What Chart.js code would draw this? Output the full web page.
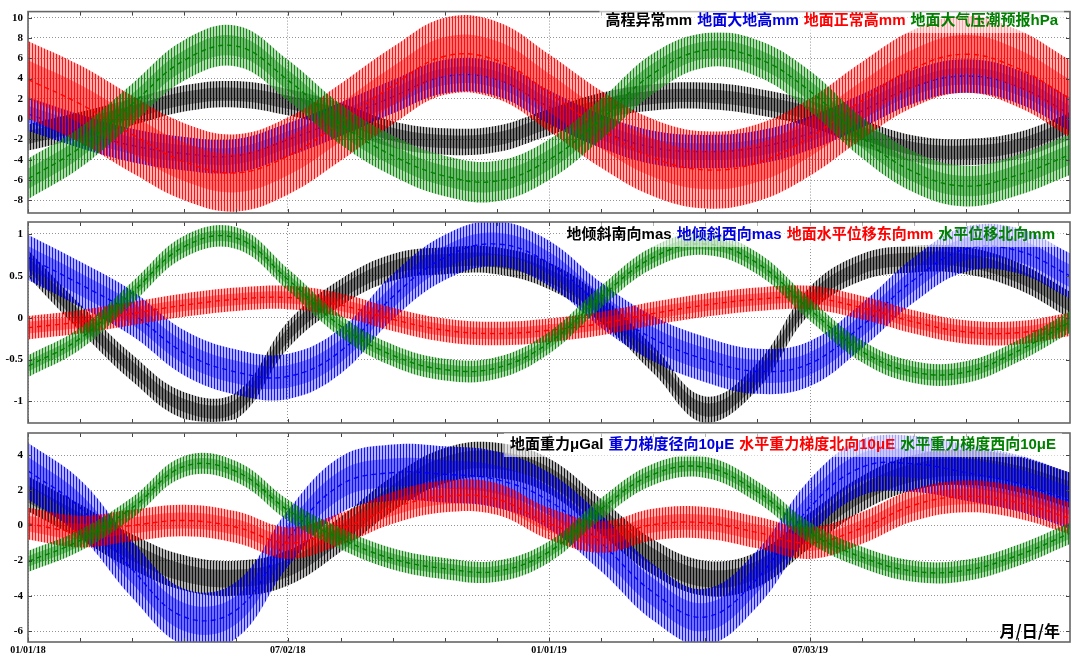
<!DOCTYPE html>
<html><head><meta charset="utf-8">
<script src="https://cdn.jsdelivr.net/npm/chart.js@4.4.1/dist/chart.umd.min.js"></script>
<style>
html,body{margin:0;padding:0;background:#fff;}
#wrap{position:relative;width:1075px;height:656px;overflow:hidden;}
canvas{position:absolute;left:0;top:0;}
</style></head><body><div id="wrap">
<canvas id="c1" width="1075" height="656"></canvas>
<canvas id="c2" width="1075" height="656"></canvas>
<canvas id="c3" width="1075" height="656"></canvas>
</div>
<script>
// ---- sample days (days since 01/01/18) ----
const sampleDays = [0,36.5,73,109.5,146,182.5,219,255.5,292,328.5,365,401.5,438,474.5,511,547.5,584,620.5,657,693.5,730];
const xMajorDays = [0,182,365,548];
const xMajorLabels = ['01/01/18','07/02/18','01/01/19','07/03/19'];

// ---- panel 1 ----
const p1Names = ['高程异常mm','地面大地高mm','地面正常高mm','地面大气压潮预报hPa'];
const p1YTicks = [10,8,6,4,2,0,-2,-4,-6,-8];
const p1BlackHi = [-0.5,0.7,2.0,3.35,3.75,2.95,1.6,-0.2,-0.9,-0.65,1.0,2.6,3.45,3.6,3.0,1.85,-0.05,-1.6,-1.95,-1.3,0.6];
const p1BlackLo = [-3.1,-1.9,-0.6,0.75,1.15,0.35,-1.0,-2.8,-3.5,-3.25,-1.6,0.0,0.85,1.0,0.4,-0.75,-2.65,-4.2,-4.55,-3.9,-2.0];
const p1BlueHi = [2.15,0.45,-0.95,-1.75,-1.95,-0.35,1.65,3.85,5.85,5.55,2.85,0.45,-1.15,-1.55,-1.15,0.25,2.45,4.85,5.9,4.85,2.15];
const p1BlueLo = [-1.15,-2.85,-4.25,-5.05,-5.25,-3.65,-1.65,0.55,2.55,2.25,-0.45,-2.85,-4.45,-4.85,-4.45,-3.05,-0.85,1.55,2.6,1.55,-1.15];
const p1RedHi = [7.7,5.3,2.3,-0.4,-1.5,0.2,3.5,7.1,10.0,9.6,6.4,2.8,0.0,-1.2,-0.5,2.0,5.6,8.8,10.2,8.8,5.8];
const p1RedLo = [0.1,-2.3,-5.3,-8.0,-9.1,-7.4,-4.1,-0.5,2.4,2.0,-1.2,-4.8,-7.6,-8.8,-8.1,-5.6,-2.0,1.2,2.6,1.2,-1.8];
const p1GreenHi = [-3.9,-0.8,3.5,7.8,9.2,5.8,1.5,-1.6,-3.6,-4.1,-2.0,2.0,6.5,8.5,7.8,4.8,0.2,-3.2,-4.6,-3.5,-1.5];
const p1GreenLo = [-7.9,-4.8,-0.5,3.8,5.2,1.8,-2.5,-5.6,-7.6,-8.1,-6.0,-2.0,2.5,5.1,4.2,0.8,-3.8,-7.2,-8.6,-7.5,-5.5];

// ---- panel 2 ----
const p2Names = ['地倾斜南向mas','地倾斜西向mas','地面水平位移东向mm','水平位移北向mm'];
const p2YTicks = [1,0.5,0,-0.5,-1];
const p2BlackHi = [0.81,0.16,-0.44,-0.89,-0.89,-0.04,0.46,0.76,0.84,0.84,0.66,0.26,-0.34,-0.94,-0.54,0.36,0.76,0.86,0.84,0.66,0.31];
const p2BlackLo = [0.49,-0.16,-0.76,-1.21,-1.21,-0.36,0.14,0.44,0.52,0.52,0.34,-0.06,-0.66,-1.26,-0.86,0.04,0.44,0.54,0.52,0.34,-0.01];
const p2BlueHi = [0.99,0.67,0.32,-0.15,-0.38,-0.43,-0.13,0.52,0.99,1.15,0.92,0.42,0.02,-0.23,-0.37,-0.28,0.17,0.72,1.09,1.07,0.77];
const p2BlueLo = [0.45,0.13,-0.22,-0.69,-0.92,-0.97,-0.67,-0.02,0.45,0.61,0.38,-0.12,-0.52,-0.77,-0.91,-0.82,-0.37,0.18,0.55,0.53,0.23];
const p2RedHi = [0.02,0.09,0.19,0.29,0.36,0.38,0.29,0.12,-0.01,-0.05,-0.01,0.07,0.19,0.29,0.36,0.38,0.26,0.09,-0.03,-0.04,0.06];
const p2RedLo = [-0.26,-0.19,-0.09,0.01,0.08,0.10,0.01,-0.16,-0.29,-0.33,-0.29,-0.21,-0.09,0.01,0.08,0.10,-0.02,-0.19,-0.31,-0.32,-0.22];
const p2GreenHi = [-0.45,-0.12,0.43,0.98,1.08,0.58,0.03,-0.32,-0.49,-0.47,-0.17,0.38,0.85,1.01,0.78,0.23,-0.27,-0.52,-0.52,-0.27,0.08];
const p2GreenLo = [-0.71,-0.38,0.17,0.72,0.82,0.32,-0.23,-0.58,-0.75,-0.73,-0.43,0.12,0.59,0.75,0.52,-0.03,-0.53,-0.78,-0.78,-0.53,-0.18];

// ---- panel 3 ----
const p3Names = ['地面重力μGal','重力梯度径向10μE','水平重力梯度北向10μE','水平重力梯度西向10μE'];
const p3YTicks = [4,2,0,-2,-4,-6];
const p3BlackHi = [2.8,1.2,-0.5,-1.7,-2.0,-1.4,0.5,2.8,4.4,4.7,3.8,1.5,-0.8,-2.0,-1.5,0.7,2.8,4.0,4.3,3.9,3.0];
const p3BlackLo = [0.8,-0.8,-2.5,-3.7,-4.0,-3.4,-1.5,0.8,2.4,2.7,1.8,-0.5,-2.8,-4.0,-3.5,-1.3,0.8,2.0,2.3,1.9,1.0];
const p3BlueHi = [4.7,2.6,-0.9,-3.6,-3.2,0.9,3.9,4.6,4.5,4.2,3.0,0.6,-2.2,-3.6,-1.4,2.6,4.9,5.1,4.6,4.0,3.0];
const p3BlueLo = [1.5,-0.6,-4.1,-6.8,-6.4,-2.3,0.7,1.4,1.3,1.0,-0.2,-2.6,-5.4,-6.8,-4.6,-0.6,1.7,1.9,1.4,0.8,-0.2];
const p3RedHi = [1.0,0.55,0.9,1.18,0.8,-0.1,0.7,1.9,2.55,2.4,1.0,0.25,0.95,1.05,0.5,-0.1,0.75,2.05,2.55,2.2,1.3];
const p3RedLo = [-0.8,-1.25,-0.9,-0.62,-1.0,-1.9,-1.1,0.1,0.75,0.6,-0.8,-1.55,-0.85,-0.75,-1.3,-1.9,-1.05,0.25,0.75,0.4,-0.5];
const p3GreenHi = [-1.45,-0.25,1.6,3.95,3.65,1.45,-0.15,-1.3,-1.85,-2.0,-0.9,1.55,3.5,3.9,2.5,0.2,-1.2,-2.0,-1.95,-1.1,0.15];
const p3GreenLo = [-2.65,-1.45,0.4,2.75,2.45,0.25,-1.35,-2.5,-3.05,-3.2,-2.1,0.35,2.3,2.7,1.3,-1.0,-2.4,-3.2,-3.15,-2.3,-1.05];

const axisLabel = '月/日/年';

// ---- styling ----
const RGB = ['0,0,0','0,0,245','255,0,0','0,128,0'];
const TEXTCOL = ['#000','#0000e0','#ff0000','#008000'];

function stripePattern(rgb, phase){
  const c = document.createElement('canvas'); c.width = 3; c.height = 2;
  const g = c.getContext('2d');
  for (let i = 0; i < 3; i++){
    g.fillStyle = 'rgba(' + rgb + ',' + (i === phase ? 0.92 : 0.3) + ')';
    g.fillRect(i, 0, 1, 2);
  }
  return g.createPattern(c, 'repeat');
}

function buildDatasets(series){
  const ds = [];
  const pts = arr => sampleDays.map((d, i) => ({x: d, y: arr[i]}));
  // index 0 is drawn on top: list series in reverse legend order
  for (let k = series.length - 1; k >= 0; k--){
    const s = series[k];
    const mid = s.hi.map((v, i) => (v + s.lo[i]) / 2);
    const half = s.hi.map((v, i) => (v - s.lo[i]) / 2);
    const base = ds.length;
    const common = {pointRadius: 0, borderColor: 'transparent', borderWidth: 0, tension: 0.4};
    ds.push({data: pts(mid), borderColor: k === 0 ? 'transparent' : 'rgba(' + RGB[k] + ',0.95)', borderWidth: 1.4, borderDash: [5, 4], pointRadius: 0, fill: false, tension: 0.4});
    ds.push(Object.assign({data: pts(mid.map((m, i) => m + half[i] * 0.5)), fill: false}, common));
    ds.push(Object.assign({data: pts(mid.map((m, i) => m - half[i] * 0.5)), fill: base + 1, backgroundColor: 'rgba(' + RGB[k] + ',0.38)'}, common));
    ds.push(Object.assign({data: pts(s.hi), fill: false}, common));
    ds.push(Object.assign({data: pts(s.lo), fill: base + 3, backgroundColor: stripePattern(RGB[k], k % 3)}, common));
  }
  return ds;
}

const xMinor = [];
for (let i = 1; i < 20; i++){ if (i % 5 !== 0) xMinor.push(i * 36.5); }
const xAllTicks = xMajorDays.concat(xMinor).sort((a, b) => a - b);

const framePlugin = {
  id: 'frame',
  afterDraw(chart){
    const {ctx, chartArea: a, scales} = chart;
    ctx.save();
    ctx.strokeStyle = '#444'; ctx.lineWidth = 1;
    scales.x.ticks.forEach(t => {
      const px = Math.round(scales.x.getPixelForValue(t.value)) + 0.5;
      ctx.beginPath(); ctx.moveTo(px, a.bottom); ctx.lineTo(px, a.bottom - 4);
      ctx.moveTo(px, a.top); ctx.lineTo(px, a.top + 4); ctx.stroke();
    });
    scales.y.ticks.forEach(t => {
      const py = Math.round(scales.y.getPixelForValue(t.value)) + 0.5;
      ctx.beginPath(); ctx.moveTo(a.left, py); ctx.lineTo(a.left + 4, py);
      ctx.moveTo(a.right, py); ctx.lineTo(a.right - 4, py); ctx.stroke();
    });
    ctx.strokeStyle = '#666'; ctx.lineWidth = 1.6;
    ctx.strokeRect(a.left, a.top, a.right - a.left, a.bottom - a.top);
    // legend text
    const o = chart.options.plugins.bandLegend;
    if (o){
      ctx.font = 'bold 15px "Liberation Sans", "Noto Sans CJK SC", sans-serif';
      ctx.textBaseline = 'middle';
      const gap = 5;
      const widths = o.names.map(n => ctx.measureText(n).width);
      const total = widths.reduce((p, c) => p + c, 0) + gap * (widths.length - 1);
      let x = o.right - total;
      ctx.fillStyle = 'rgba(255,255,255,0.6)';
      ctx.fillRect(x - 6, o.y - 12, total + 12, 24);
      o.names.forEach((n, i) => {
        ctx.fillStyle = TEXTCOL[i];
        ctx.fillText(n, x, o.y);
        x += widths[i] + gap;
      });
      if (o.corner){
        ctx.font = 'bold 16px "Noto Sans CJK SC", sans-serif';
        ctx.fillStyle = '#000'; ctx.textAlign = 'right';
        ctx.fillText(o.corner, a.right - 10, a.bottom - 11);
      }
    }
    ctx.restore();
  }
};

function makePanel(id, series, yMin, yMax, yTicks, top, bottom, showX, legend){
  new Chart(document.getElementById(id), {
    type: 'line',
    data: {datasets: buildDatasets(series)},
    plugins: [framePlugin],
    options: {
      responsive: false, animation: false, devicePixelRatio: 1,
      layout: {padding: {top: top, bottom: showX ? 0 : 656 - bottom, left: 0, right: 5}},
      plugins: {legend: {display: false}, tooltip: {enabled: false}, bandLegend: legend},
      scales: {
        x: {
          type: 'linear', min: 0, max: 730,
          afterBuildTicks: sc => { sc.ticks = xAllTicks.map(v => ({value: v})); },
          afterFit: sc => { sc.height = showX ? 14 : 0; },
          ticks: {display: showX, autoSkip: false, maxRotation: 0, padding: 2, color: '#000',
            font: {family: '"Liberation Serif", serif', size: 10, weight: 'bold'},
            callback: v => { const j = xMajorDays.indexOf(v); return j >= 0 ? xMajorLabels[j] : ''; }},
          grid: {drawTicks: false, lineWidth: 1,
            color: c => (c.tick && xMajorDays.indexOf(c.tick.value) >= 0) ? 'rgba(120,120,120,0.8)' : 'rgba(0,0,0,0)'},
          border: {display: false, dash: [1, 2]}
        },
        y: {
          min: yMin, max: yMax,
          afterBuildTicks: sc => { sc.ticks = yTicks.map(v => ({value: v})); },
          afterFit: sc => { sc.width = 28; },
          ticks: {padding: 5, color: '#000', font: {family: '"Liberation Serif", serif', size: 11, weight: 'bold'},
            callback: v => String(v)},
          grid: {drawTicks: false, lineWidth: 1, color: 'rgba(120,120,120,0.8)'},
          border: {display: false, dash: [1, 2]}
        }
      }
    }
  });
}

makePanel('c1', [
  {hi: p1BlackHi, lo: p1BlackLo}, {hi: p1BlueHi, lo: p1BlueLo},
  {hi: p1RedHi, lo: p1RedLo}, {hi: p1GreenHi, lo: p1GreenLo}],
  -9.25, 10.6, p1YTicks, 5, 213, false, {names: p1Names, right: 1058, y: 21});
makePanel('c2', [
  {hi: p2BlackHi, lo: p2BlackLo}, {hi: p2BlueHi, lo: p2BlueLo},
  {hi: p2RedHi, lo: p2RedLo}, {hi: p2GreenHi, lo: p2GreenLo}],
  -1.258, 1.143, p2YTicks, 222, 423, false, {names: p2Names, right: 1055, y: 235});
makePanel('c3', [
  {hi: p3BlackHi, lo: p3BlackLo}, {hi: p3BlueHi, lo: p3BlueLo},
  {hi: p3RedHi, lo: p3RedLo}, {hi: p3GreenHi, lo: p3GreenLo}],
  -6.62, 5.25, p3YTicks, 433, 642, true, {names: p3Names, right: 1056, y: 445, corner: axisLabel});
</script>
</body></html>
